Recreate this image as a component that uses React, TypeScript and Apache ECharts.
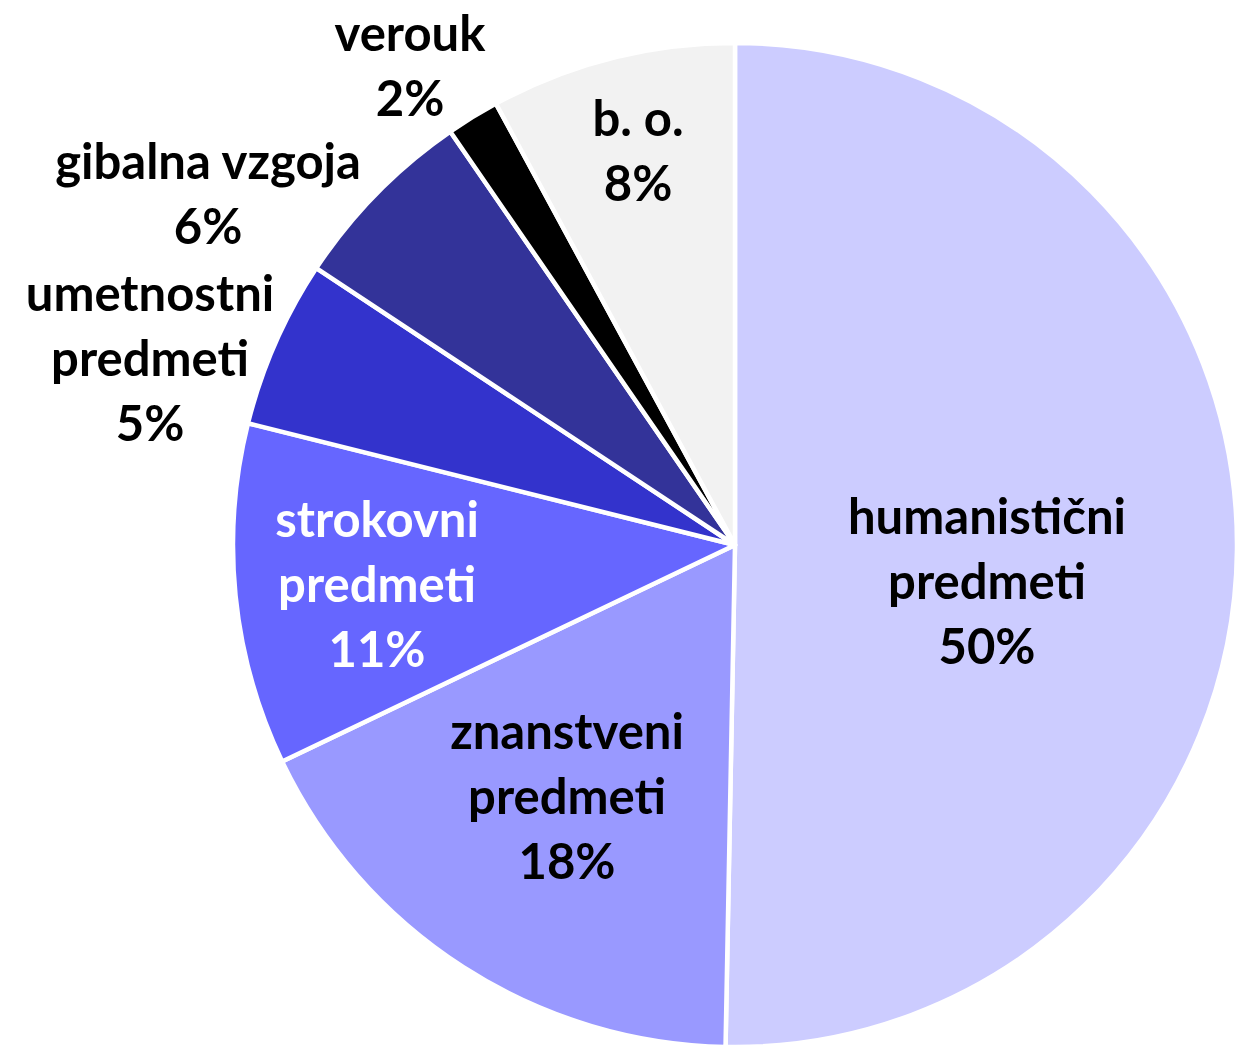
import React, { useEffect, useRef } from "react";
import * as echarts from "echarts";

const categories = [
  "humanistični\npredmeti",
  "znanstveni\npredmeti",
  "strokovni\npredmeti",
  "umetnostni\npredmeti",
  "gibalna vzgoja",
  "verouk",
  "b. o.",
];
const values = [50.3, 17.6, 11.0, 5.4, 6.1, 1.7, 7.9];
const colors = ["#CCCCFF", "#9999FF", "#6666FF", "#3333CC", "#333399", "#000000", "#F2F2F2"];
const labelColors = ["#000", "#000", "#fff", "#000", "#000", "#000", "#000"];
// label centre positions (layout)
const labelPos: [number, number][] = [
  [987, 580],
  [567, 795],
  [377, 583],
  [150, 357],
  [208, 192],
  [410, 64],
  [638, 149],
];

export default function App() {
  const ref = useRef<HTMLDivElement>(null);
  useEffect(() => {
    const chart = echarts.init(ref.current!, null, { renderer: "svg" });
    chart.setOption({
      animation: false,
      backgroundColor: "#ffffff",
      series: [
        {
          type: "pie",
          center: [735, 545],
          radius: [0, 502],
          startAngle: 90,
          clockwise: true,
          percentPrecision: 0,
          avoidLabelOverlap: false,
          itemStyle: { borderColor: "#ffffff", borderWidth: 4.5 },
          labelLine: { show: false },
          label: {
            show: true,
            position: "inside",
            formatter: "{b}\n{d}%",
            fontFamily: "Lato",
            fontWeight: "bold",
            fontSize: 49,
            lineHeight: 65,
            align: "center",
          },
          labelLayout: (p: any) => ({
            x: labelPos[p.dataIndex][0],
            y: labelPos[p.dataIndex][1],
            align: "center",
            verticalAlign: "middle",
          }),
          data: categories.map((name, i) => ({
            name,
            value: values[i],
            itemStyle: { color: colors[i] },
            label: { color: labelColors[i] },
          })),
        },
      ],
    });
    return () => chart.dispose();
  }, []);
  return (
    <div
      ref={ref}
      style={{ position: "fixed", left: 0, top: 0, width: 1239, height: 1049 }}
    />
  );
}
